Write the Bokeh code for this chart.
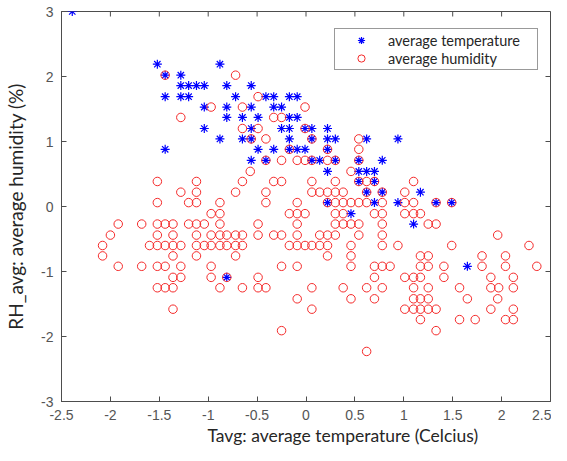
from bokeh.plotting import figure
from bokeh.models import (FixedTicker, CustomJSTickFormatter, Range1d, Legend, LegendItem, Title)
from bokeh.embed import file_html
from bokeh.resources import INLINE

# ---- tick values ----
x_ticks = [-2.5, -2, -1.5, -1, -0.5, 0, 0.5, 1, 1.5, 2, 2.5]
y_ticks = [-3, -2, -1, 0, 1, 2, 3]

# ---- series: average temperature (blue stars), grouped by y level ----
temp_levels = [3.0, 2.19, 2.02, 1.86, 1.69, 1.53, 1.37, 1.20, 1.04, 0.88,
               0.71, 0.54, 0.385, 0.22, 0.06, -0.11, -0.27, -0.92, -1.09]
temp_x_by_level = [
    [-2.39],
    [-1.52, -0.88],
    [-1.44, -1.28],
    [-1.28, -1.20, -1.12, -1.04, -0.81, -0.56],
    [-1.44, -1.28, -1.20, -0.72, -0.41, -0.33, -0.17, -0.09],
    [-1.04, -0.81, -0.56, -0.33, -0.25],
    [-0.81, -0.65, -0.49, -0.17, -0.09],
    [-1.04, -0.56, -0.25, -0.17, -0.01, 0.06, 0.22],
    [-0.88, -0.65, -0.56, -0.17, 0.06, 0.22, 0.30, 0.62, 0.94],
    [-1.44, -0.49, -0.33, -0.17, -0.09, -0.01, 0.22],
    [-0.56, -0.41, 0.06, 0.14, 0.30, 0.54, 0.78],
    [0.22, 0.54, 0.62, 0.70],
    [0.54, 0.70],
    [0.62, 0.78, 1.17],
    [0.22, 0.70, 0.94, 1.33, 1.49],
    [0.46],
    [1.10],
    [1.65],
    [-0.81],
]

# ---- series: average humidity (red circles), grouped by y level ----
hum_levels = [2.02, 1.69, 1.53, 1.37, 1.20, 1.04, 0.88, 0.71, 0.54, 0.385,
              0.22, 0.06, -0.11, -0.27, -0.44, -0.60, -0.76, -0.92, -1.09,
              -1.25, -1.42, -1.58, -1.74, -1.91, -2.23]
hum_x_by_level = [
    [-1.44, -0.72],
    [-0.49],
    [-0.97, -0.65, -0.01],
    [-1.28, -0.33, -0.25],
    [-0.65, -0.49, -0.01],
    [-0.56, -0.41, 0.06, 0.54],
    [-0.17, 0.22, 0.54],
    [-0.41, -0.25, -0.09, -0.01, 0.06, 0.22, 0.30, 0.54],
    [-0.57, 0.46],
    [-1.52, -1.12, -0.65, -0.33, -0.25, 0.06, 0.30, 0.54, 0.62, 0.70, 1.10],
    [-1.28, -1.12, -0.72, -0.41, 0.06, 0.14, 0.22, 0.30, 0.38, 0.62, 0.78, 1.01],
    [-1.52, -1.20, -1.12, -0.88, -0.41, -0.09, 0.22, 0.30, 0.38, 0.46, 0.54,
     0.62, 0.78, 1.01, 1.10, 1.33, 1.49],
    [-0.97, -0.88, -0.17, -0.09, -0.01, 0.30, 0.38, 0.70, 0.78, 1.01, 1.10, 1.17],
    [-1.92, -1.68, -1.52, -1.44, -1.36, -1.20, -1.12, -1.04, -0.88, -0.49,
     -0.09, 0.30, 0.38, 0.46, 0.54, 0.78, 1.25, 1.33],
    [-2.00, -1.52, -1.36, -1.12, -0.97, -0.88, -0.81, -0.72, -0.65, -0.49,
     -0.33, -0.25, -0.09, 0.14, 0.22, 0.30, 0.54, 0.78, 1.96],
    [-2.08, -1.60, -1.52, -1.44, -1.36, -1.28, -1.12, -1.04, -0.97, -0.88,
     -0.81, -0.72, -0.65, -0.17, -0.09, -0.01, 0.06, 0.14, 0.22, 0.46, 0.78,
     0.94, 1.49, 2.28],
    [-2.08, -1.36, -1.12, -0.72, 0.22, 0.46, 1.17, 1.25, 1.80, 2.04],
    [-1.92, -1.68, -1.52, -1.44, -1.28, -0.97, -0.25, -0.09, 0.46, 0.70, 0.78,
     0.86, 1.17, 1.25, 1.41, 1.80, 2.04, 2.36],
    [-1.36, -1.28, -0.97, -0.81, -0.49, 0.70, 1.01, 1.10, 1.17, 1.41, 1.89, 2.12],
    [-1.52, -1.44, -1.36, -0.88, -0.65, -0.49, -0.41, 0.06, 0.38, 0.62, 0.78,
     1.10, 1.25, 1.57, 1.89, 1.97, 2.12],
    [-0.09, 0.46, 0.70, 1.10, 1.17, 1.25, 1.65, 1.96],
    [-1.36, 0.06, 1.01, 1.10, 1.17, 1.25, 1.33, 1.89, 2.12],
    [1.17, 1.57, 1.73, 2.04, 2.12],
    [-0.25, 1.33],
    [0.62],
]


def flatten(levels, xs_by_level):
    xs, ys = [], []
    for yv, row in zip(levels, xs_by_level):
        for xv in row:
            xs.append(xv)
            ys.append(yv)
    return xs, ys


tx, ty = flatten(temp_levels, temp_x_by_level)
hx, hy = flatten(hum_levels, hum_x_by_level)

AX = "#4d4d4d"
TICKLBL = "#555555"
LBL = "#262626"

W, H = 551, 445
BL, BR, BT, BB = 61, 1, 11, 44
X0, X1, Y0, Y1 = -2.5, 2.5, -3, 3

p = figure(width=W, height=H, x_range=Range1d(X0, X1), y_range=Range1d(Y0, Y1),
           output_backend="svg", toolbar_location=None,
           min_border_left=BL, min_border_right=BR, min_border_top=BT, min_border_bottom=BB)
p.xgrid.visible = False
p.ygrid.visible = False
p.outline_line_color = AX
p.outline_line_width = 1
p.background_fill_color = "white"
p.border_fill_color = "white"

# inward tick marks on the top and right edges of the box (MATLAB style)
tick_px = 5
frame_w = W - BL - BR
frame_h = H - BT - BB
dy = tick_px * (Y1 - Y0) / frame_h
dx = tick_px * (X1 - X0) / frame_w
p.segment(x0=x_ticks, y0=[Y1] * len(x_ticks), x1=x_ticks, y1=[Y1 - dy] * len(x_ticks),
          line_color=AX, line_width=1)
p.segment(x0=[X1] * len(y_ticks), y0=y_ticks, x1=[X1 - dx] * len(y_ticks), y1=y_ticks,
          line_color=AX, line_width=1)

r1 = p.scatter(tx, ty, marker="asterisk", size=9, line_color="#0000ff", line_width=1.2)
r2 = p.scatter(hx, hy, marker="circle", size=8.5, line_color="#f52a2a", fill_color=None,
               line_width=1.0)

fmt = CustomJSTickFormatter(code="return String(tick);")

for ax, ticks in ((p.xaxis[0], x_ticks), (p.yaxis[0], y_ticks)):
    ax.ticker = FixedTicker(ticks=ticks)
    ax.formatter = fmt
    ax.major_tick_in = 5
    ax.major_tick_out = 0
    ax.minor_tick_line_color = None
    ax.axis_line_color = AX
    ax.major_tick_line_color = AX
    ax.major_label_text_color = TICKLBL
    ax.major_label_text_font = "Liberation Sans"
    ax.major_label_text_font_size = "14px"
    ax.major_label_standoff = 8

p.yaxis.axis_label = "RH_avg: average humidity (%)"
p.yaxis.axis_label_text_font = "Lato"
p.yaxis.axis_label_text_font_size = "19px"
p.yaxis.axis_label_text_font_style = "normal"
p.yaxis.axis_label_text_color = LBL
p.yaxis.axis_label_standoff = 11

xlabel = Title(text="Tavg: average temperature (Celcius)", align="left", offset=146,
               text_font="Lato", text_font_size="17.5px", text_font_style="normal",
               text_color=LBL, standoff=0)
p.add_layout(xlabel, "below")

legend = Legend(items=[LegendItem(label="average temperature", renderers=[r1]),
                       LegendItem(label="average humidity", renderers=[r2])],
                location=(273, 331), padding=2, spacing=0,
                glyph_width=48, glyph_height=18, label_standoff=3, label_width=147,
                label_height=18, label_text_font="Lato", label_text_font_size="14.5px",
                label_text_color=LBL, border_line_color="#333333", border_line_width=1,
                background_fill_color="white", background_fill_alpha=1)
p.add_layout(legend)

open("out.html", "w").write(file_html(p, INLINE))
